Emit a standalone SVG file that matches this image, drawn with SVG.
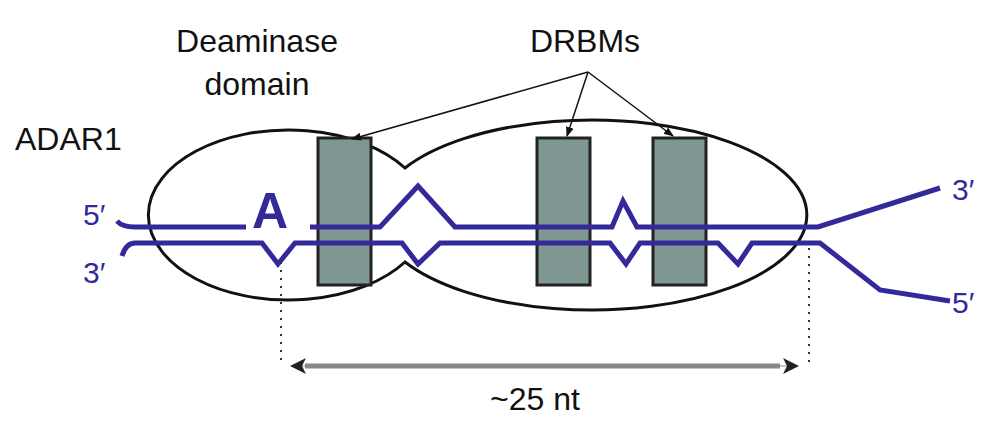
<svg xmlns="http://www.w3.org/2000/svg" width="1000" height="435" viewBox="0 0 1000 435">
<style>
text{font-family:"Liberation Sans",Arial,sans-serif;}
.lbl{font-size:32px;fill:#111;}
.end{font-size:30px;fill:#33299a;}
.strand{fill:none;stroke:#33299a;stroke-width:5;stroke-linejoin:miter;}
.box{fill:#7f9793;stroke:#222;stroke-width:3;}
.dot{stroke:#333;stroke-width:2;stroke-dasharray:2,6;}
.ptr{stroke:#111;stroke-width:1.5;fill:none;}
</style>
<defs>
<marker id="ah" markerWidth="10" markerHeight="10" refX="9" refY="5" orient="auto" markerUnits="userSpaceOnUse"><path d="M0,1 L10,5 L0,9 Z" fill="#111"/></marker>
<marker id="dh" markerWidth="16" markerHeight="16" refX="14" refY="8" orient="auto" markerUnits="userSpaceOnUse"><path d="M0,0 L16,8 L0,16 L4,8 Z" fill="#222"/></marker>
</defs>
<g id="adar1">
<path d="M405,168 A140,85 0 1,0 405,262 A215,95 0 1,0 405,168 Z" fill="#fff" stroke="#111" stroke-width="3"/>
<text class="lbl" x="15" y="150" font-size="34">ADAR1</text>
</g>
<g id="deaminase">
<rect class="box" x="318" y="138" width="53" height="147"/>
<text class="lbl" x="257" y="52" text-anchor="middle">Deaminase</text>
<text class="lbl" x="257" y="95" text-anchor="middle">domain</text>
</g>
<g id="drbm1"><rect class="box" x="537" y="138" width="53" height="147"/></g>
<g id="drbm2"><rect class="box" x="653" y="138" width="53" height="147"/></g>
<g id="drbms-label"><text class="lbl" x="585" y="52" text-anchor="middle">DRBMs</text></g>
<g id="strands">
<path class="strand" d="M117,221 Q122,227 135,227 L246,227 M310,227 L380,227 L418,186 L455,227 L612,227 L623,201 L637,227 L818,227 L940,188"/>
<path class="strand" d="M122,256 Q126,243 135,243 L262,243 L278,264 L295,243 L402,243 L418,264 L440,243 L610,243 L626,264 L640,243 L718,243 L738,264 L752,243 L820,243 L880,290 L950,301"/>
<text x="270" y="228" text-anchor="middle" font-size="50" font-weight="bold" fill="#33299a">A</text>
<text class="end" x="83" y="225">5′</text>
<text class="end" x="83" y="283">3′</text>
<text class="end" x="952" y="200">3′</text>
<text class="end" x="952" y="313">5′</text>
</g>
<g id="connectors">
<line class="ptr" x1="588" y1="72" x2="352" y2="139" marker-end="url(#ah)"/>
<line class="ptr" x1="588" y1="72" x2="567" y2="136" marker-end="url(#ah)"/>
<line class="ptr" x1="588" y1="72" x2="673" y2="136" marker-end="url(#ah)"/>
<line class="dot" x1="281" y1="262" x2="281" y2="365"/>
<line class="dot" x1="809" y1="248" x2="809" y2="365"/>
<line x1="305" y1="366" x2="780" y2="366" stroke="#888" stroke-width="5"/>
<line x1="330" y1="366" x2="292" y2="366" stroke="#888" stroke-width="1" marker-end="url(#dh)"/>
<line x1="760" y1="366" x2="797" y2="366" stroke="#888" stroke-width="1" marker-end="url(#dh)"/>
<text class="lbl" x="535" y="410" text-anchor="middle" font-size="30">~25 nt</text>
</g>
</svg>
